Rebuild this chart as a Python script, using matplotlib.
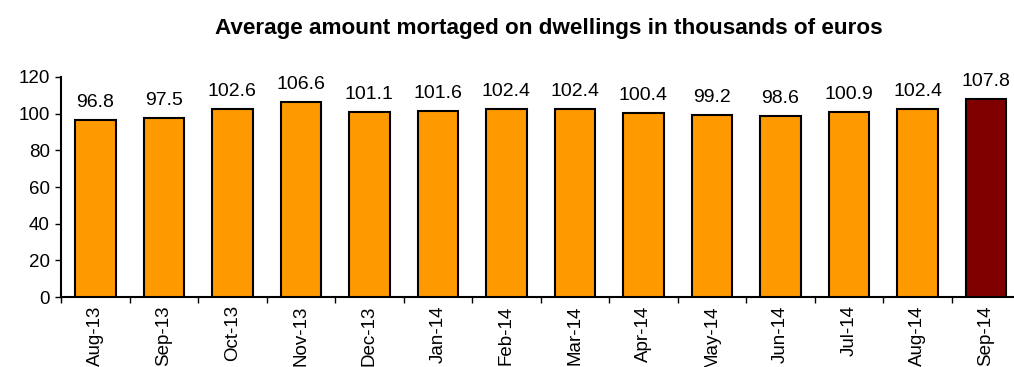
import matplotlib
matplotlib.use("Agg")
import matplotlib.pyplot as plt
import numpy as np
from matplotlib.ticker import FixedLocator

plt.rcParams['font.family'] = ['Liberation Sans', 'DejaVu Sans']

months = ["Aug-13", "Sep-13", "Oct-13", "Nov-13", "Dec-13", "Jan-14", "Feb-14",
          "Mar-14", "Apr-14", "May-14", "Jun-14", "Jul-14", "Aug-14", "Sep-14"]
amounts = [96.8, 97.5, 102.6, 106.6, 101.1, 101.6, 102.4,
           102.4, 100.4, 99.2, 98.6, 100.9, 102.4, 107.8]

fig = plt.figure(figsize=(10.14, 3.67), dpi=100)
ax = fig.add_axes([0.0602, 0.1907, 0.946, 0.5995])

x = np.arange(len(months))
colors = ["#FF9900"] * (len(months) - 1) + ["#800000"]
ax.bar(x, amounts, width=0.59, color=colors, edgecolor="black", linewidth=1.5, zorder=3)

for xi, v in zip(x, amounts):
    ax.annotate(f"{v:.1f}", (xi, v), xytext=(0, 6.5), textcoords="offset points",
                ha="center", va="bottom", fontsize=14)

ax.set_xlim(-0.5, len(months) - 0.5)
ax.set_ylim(0, 120)
ax.set_yticks(range(0, 121, 20))
ax.set_xticks(x)
ax.set_xticklabels(months, rotation=90, fontsize=13.5)
ax.xaxis.set_minor_locator(FixedLocator(np.arange(-0.5, len(months), 1.0)))
ax.tick_params(axis="x", which="major", length=0, pad=6)
ax.tick_params(axis="x", which="minor", length=4, width=1, direction="out")
ax.tick_params(axis="y", length=4, width=1, direction="out", labelsize=13.5, pad=4)

for s in ["top", "right"]:
    ax.spines[s].set_visible(False)
for s in ["left", "bottom"]:
    ax.spines[s].set_linewidth(1.5)

fig.text(0.541, 0.921, "Average amount mortaged on dwellings in thousands of euros",
         ha="center", va="center", fontsize=16.2, fontweight="bold")

fig.savefig("out.png", dpi=100)
